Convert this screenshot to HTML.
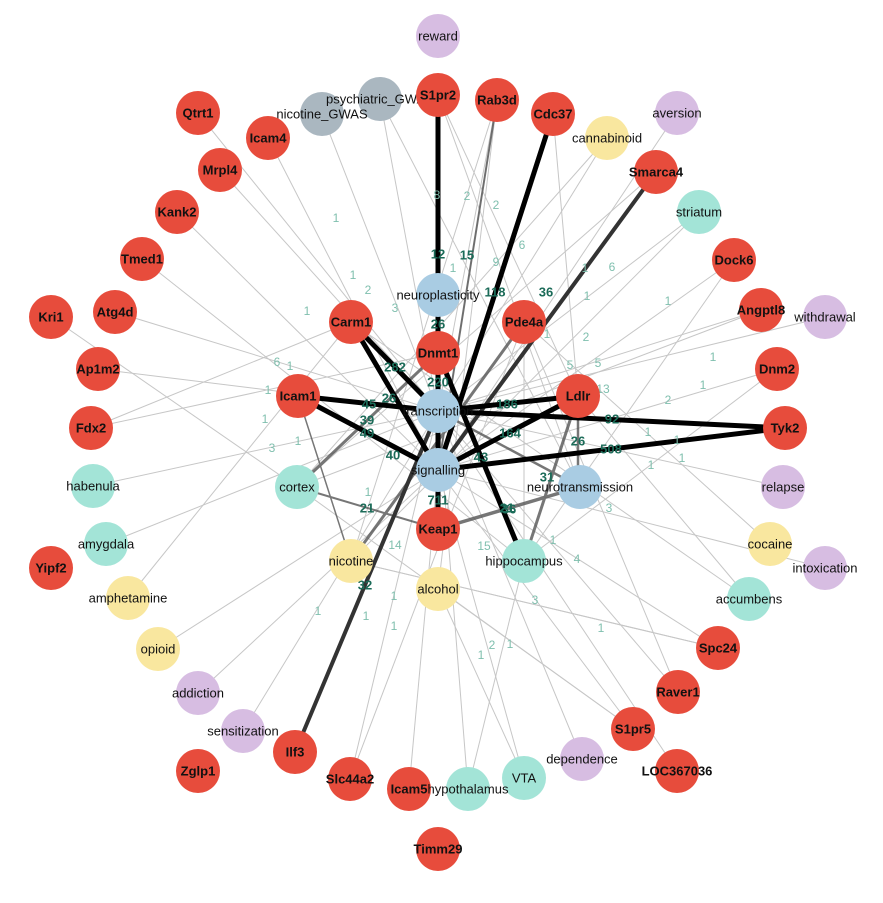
<!DOCTYPE html>
<html><head><meta charset="utf-8"><style>
html,body{margin:0;padding:0;background:#fff;width:883px;height:903px;overflow:hidden}
svg text{font-family:"Liberation Sans",sans-serif;font-size:13px;text-anchor:middle;dominant-baseline:central}
.r{font-weight:bold;fill:#111}
.l{fill:#111}
.e{fill:#7fbfae;font-size:12px}
.b{fill:#1b6b58;font-size:13px;font-weight:bold}
</style></head><body>
<svg width="883" height="903" viewBox="0 0 883 903" xmlns="http://www.w3.org/2000/svg">
<g stroke="#999" stroke-width="1" opacity="0.55">
<line x1="198" y1="113" x2="438" y2="411"/><line x1="268" y1="138" x2="438" y2="470"/>
<line x1="220" y1="170" x2="438" y2="411"/><line x1="177" y1="212" x2="438" y2="470"/>
<line x1="142" y1="259" x2="524" y2="561"/><line x1="115" y1="312" x2="438" y2="411"/>
<line x1="51" y1="317" x2="297" y2="487"/><line x1="98" y1="369" x2="438" y2="411"/>
<line x1="91" y1="428" x2="438" y2="353"/><line x1="91" y1="428" x2="351" y2="322"/>
<line x1="93" y1="486" x2="438" y2="411"/><line x1="106" y1="544" x2="438" y2="411"/>
<line x1="128" y1="598" x2="351" y2="322"/><line x1="158" y1="649" x2="438" y2="470"/>
<line x1="243" y1="731" x2="438" y2="411"/><line x1="322" y1="114" x2="438" y2="411"/>
<line x1="380" y1="99" x2="438" y2="411"/><line x1="380" y1="99" x2="580" y2="487"/>
<line x1="497" y1="100" x2="438" y2="411"/><line x1="497" y1="100" x2="438" y2="470"/>
<line x1="497" y1="100" x2="351" y2="561"/><line x1="497" y1="100" x2="438" y2="589"/>
<line x1="438" y1="95" x2="578" y2="396"/><line x1="438" y1="95" x2="580" y2="487"/>
<line x1="607" y1="138" x2="438" y2="411"/><line x1="607" y1="138" x2="297" y2="487"/>
<line x1="699" y1="212" x2="438" y2="411"/><line x1="699" y1="212" x2="351" y2="561"/>
<line x1="734" y1="260" x2="438" y2="470"/><line x1="734" y1="260" x2="524" y2="561"/>
<line x1="761" y1="310" x2="438" y2="411"/><line x1="761" y1="310" x2="297" y2="487"/>
<line x1="777" y1="369" x2="438" y2="470"/><line x1="777" y1="369" x2="524" y2="561"/>
<line x1="825" y1="317" x2="438" y2="411"/><line x1="783" y1="487" x2="438" y2="411"/>
<line x1="825" y1="568" x2="438" y2="470"/><line x1="770" y1="544" x2="524" y2="322"/>
<line x1="749" y1="599" x2="578" y2="396"/><line x1="749" y1="599" x2="351" y2="322"/>
<line x1="718" y1="648" x2="438" y2="470"/><line x1="718" y1="648" x2="351" y2="561"/>
<line x1="678" y1="692" x2="438" y2="411"/><line x1="678" y1="692" x2="524" y2="322"/>
<line x1="633" y1="729" x2="438" y2="470"/><line x1="633" y1="729" x2="297" y2="487"/>
<line x1="582" y1="759" x2="438" y2="411"/><line x1="524" y1="778" x2="438" y2="470"/>
<line x1="468" y1="789" x2="438" y2="411"/><line x1="468" y1="789" x2="524" y2="561"/>
<line x1="409" y1="789" x2="438" y2="470"/><line x1="350" y1="779" x2="524" y2="322"/>
<line x1="350" y1="779" x2="438" y2="411"/><line x1="198" y1="693" x2="438" y2="470"/>
<line x1="677" y1="771" x2="438" y2="411"/><line x1="677" y1="113" x2="438" y2="470"/>
<line x1="656" y1="172" x2="297" y2="487"/><line x1="553" y1="114" x2="578" y2="396"/>
<line x1="524" y1="322" x2="524" y2="561"/><line x1="438" y1="589" x2="633" y2="729"/>
<line x1="351" y1="561" x2="718" y2="648"/><line x1="438" y1="589" x2="524" y2="778"/>
</g>
<g stroke="#555" opacity="0.8">
<line x1="297" y1="487" x2="438" y2="529" stroke-width="2"/>
<line x1="438" y1="411" x2="580" y2="487" stroke-width="2.5"/>
<line x1="297" y1="487" x2="438" y2="353" stroke-width="3"/>
<line x1="351" y1="561" x2="524" y2="322" stroke-width="3"/>
<line x1="524" y1="561" x2="578" y2="396" stroke-width="3"/>
<line x1="438" y1="529" x2="580" y2="487" stroke-width="3.5"/>
<line x1="298" y1="396" x2="351" y2="561" stroke-width="1.5"/>
<line x1="497" y1="100" x2="438" y2="470" stroke-width="2"/>
<line x1="578" y1="396" x2="578" y2="487" stroke-width="2.5"/>
</g>
<g stroke="#333">
<line x1="295" y1="752" x2="438" y2="411" stroke-width="4"/>
<line x1="656" y1="172" x2="438" y2="470" stroke-width="4"/>
</g>
<g stroke="#000" stroke-width="5">
<line x1="438" y1="95" x2="438" y2="529"/>
<line x1="553" y1="114" x2="438" y2="470"/>
<line x1="351" y1="322" x2="438" y2="411"/><line x1="351" y1="322" x2="438" y2="470"/>
<line x1="298" y1="396" x2="438" y2="411"/><line x1="298" y1="396" x2="438" y2="470"/>
<line x1="578" y1="396" x2="438" y2="411"/><line x1="578" y1="396" x2="438" y2="470"/>
<line x1="785" y1="428" x2="438" y2="411"/><line x1="785" y1="428" x2="438" y2="470"/>
<line x1="438" y1="353" x2="524" y2="561"/>
</g>
<text class="e" x="336" y="218">1</text><text class="e" x="353" y="275">1</text><text class="e" x="368" y="290">2</text>
<text class="e" x="437" y="195">8</text><text class="e" x="467" y="196">2</text><text class="e" x="496" y="205">2</text>
<text class="e" x="522" y="245">6</text><text class="e" x="496" y="262">9</text><text class="e" x="453" y="268">1</text>
<text class="e" x="307" y="311">1</text><text class="e" x="395" y="308">3</text><text class="e" x="277" y="362">6</text>
<text class="e" x="290" y="366">1</text><text class="e" x="268" y="390">1</text><text class="e" x="265" y="419">1</text>
<text class="e" x="272" y="448">3</text><text class="e" x="298" y="441">1</text><text class="e" x="368" y="492">1</text>
<text class="e" x="395" y="545">14</text><text class="e" x="484" y="546">15</text><text class="e" x="553" y="540">1</text>
<text class="e" x="577" y="559">4</text><text class="e" x="609" y="508">3</text><text class="e" x="535" y="600">3</text>
<text class="e" x="601" y="628">1</text><text class="e" x="394" y="596">1</text><text class="e" x="366" y="616">1</text>
<text class="e" x="318" y="611">1</text><text class="e" x="394" y="626">1</text><text class="e" x="481" y="655">1</text>
<text class="e" x="492" y="645">2</text><text class="e" x="510" y="644">1</text><text class="e" x="612" y="267">6</text>
<text class="e" x="668" y="301">1</text><text class="e" x="713" y="357">1</text><text class="e" x="703" y="385">1</text>
<text class="e" x="668" y="400">2</text><text class="e" x="648" y="432">1</text><text class="e" x="677" y="440">1</text>
<text class="e" x="651" y="465">1</text><text class="e" x="682" y="458">1</text><text class="e" x="598" y="363">5</text>
<text class="e" x="570" y="365">5</text><text class="e" x="603" y="389">13</text><text class="e" x="586" y="337">2</text>
<text class="e" x="585" y="268">1</text><text class="e" x="547" y="334">1</text><text class="e" x="587" y="296">1</text>
<text class="b" x="438" y="254">12</text><text class="b" x="467" y="255">15</text><text class="b" x="495" y="292">118</text>
<text class="b" x="546" y="292">36</text><text class="b" x="438" y="324">26</text><text class="b" x="395" y="367">282</text>
<text class="b" x="438" y="382">220</text><text class="b" x="369" y="404">45</text><text class="b" x="389" y="398">26</text>
<text class="b" x="367" y="420">39</text><text class="b" x="367" y="433">49</text><text class="b" x="507" y="404">186</text>
<text class="b" x="510" y="433">164</text><text class="b" x="612" y="419">92</text><text class="b" x="611" y="449">508</text>
<text class="b" x="393" y="455">40</text><text class="b" x="481" y="457">43</text><text class="b" x="438" y="500">711</text>
<text class="b" x="507" y="508">21</text><text class="b" x="507" y="508">21</text><text class="b" x="507" y="508">21</text>
<text class="b" x="509" y="509">36</text><text class="b" x="367" y="508">21</text><text class="b" x="365" y="585">32</text>
<text class="b" x="578" y="441">26</text><text class="b" x="547" y="477">31</text>
<g>
<circle cx="438" cy="36" r="22" fill="#d7bde2"/><text class="l" x="438" y="36">reward</text>
<circle cx="677" cy="113" r="22" fill="#d7bde2"/><text class="l" x="677" y="113">aversion</text>
<circle cx="825" cy="317" r="22" fill="#d7bde2"/><text class="l" x="825" y="317">withdrawal</text>
<circle cx="783" cy="487" r="22" fill="#d7bde2"/><text class="l" x="783" y="487">relapse</text>
<circle cx="825" cy="568" r="22" fill="#d7bde2"/><text class="l" x="825" y="568">intoxication</text>
<circle cx="198" cy="693" r="22" fill="#d7bde2"/><text class="l" x="198" y="693">addiction</text>
<circle cx="243" cy="731" r="22" fill="#d7bde2"/><text class="l" x="243" y="731">sensitization</text>
<circle cx="582" cy="759" r="22" fill="#d7bde2"/><text class="l" x="582" y="759">dependence</text>
<circle cx="380" cy="99" r="22" fill="#aab7c0"/><circle cx="322" cy="114" r="22" fill="#aab7c0"/>
<text class="l" x="380" y="99">psychiatric_GWAS</text><text class="l" x="322" y="114">nicotine_GWAS</text>
<circle cx="607" cy="138" r="22" fill="#f9e79f"/><text class="l" x="607" y="138">cannabinoid</text>
<circle cx="770" cy="544" r="22" fill="#f9e79f"/><text class="l" x="770" y="544">cocaine</text>
<circle cx="128" cy="598" r="22" fill="#f9e79f"/><text class="l" x="128" y="598">amphetamine</text>
<circle cx="158" cy="649" r="22" fill="#f9e79f"/><text class="l" x="158" y="649">opioid</text>
<circle cx="351" cy="561" r="22" fill="#f9e79f"/><text class="l" x="351" y="561">nicotine</text>
<circle cx="438" cy="589" r="22" fill="#f9e79f"/><text class="l" x="438" y="589">alcohol</text>
<circle cx="699" cy="212" r="22" fill="#a3e4d7"/><text class="l" x="699" y="212">striatum</text>
<circle cx="93" cy="486" r="22" fill="#a3e4d7"/><text class="l" x="93" y="486">habenula</text>
<circle cx="106" cy="544" r="22" fill="#a3e4d7"/><text class="l" x="106" y="544">amygdala</text>
<circle cx="749" cy="599" r="22" fill="#a3e4d7"/><text class="l" x="749" y="599">accumbens</text>
<circle cx="297" cy="487" r="22" fill="#a3e4d7"/><text class="l" x="297" y="487">cortex</text>
<circle cx="524" cy="561" r="22" fill="#a3e4d7"/><text class="l" x="524" y="561">hippocampus</text>
<circle cx="524" cy="778" r="22" fill="#a3e4d7"/><circle cx="468" cy="789" r="22" fill="#a3e4d7"/>
<text class="l" x="524" y="778">VTA</text>
<circle cx="438" cy="295" r="22" fill="#a9cce3"/><text class="l" x="438" y="295">neuroplasticity</text>
<circle cx="438" cy="411" r="22" fill="#a9cce3"/><text class="l" x="438" y="411">transcription</text>
<circle cx="438" cy="470" r="22" fill="#a9cce3"/><text class="l" x="438" y="470">signalling</text>
<circle cx="580" cy="487" r="22" fill="#a9cce3"/><text class="l" x="580" y="487">neurotransmission</text>
<g fill="#e74c3c">
<circle cx="438" cy="95" r="22"/><circle cx="497" cy="100" r="22"/><circle cx="553" cy="114" r="22"/>
<circle cx="198" cy="113" r="22"/><circle cx="268" cy="138" r="22"/><circle cx="220" cy="170" r="22"/>
<circle cx="656" cy="172" r="22"/><circle cx="177" cy="212" r="22"/><circle cx="142" cy="259" r="22"/>
<circle cx="734" cy="260" r="22"/><circle cx="51" cy="317" r="22"/><circle cx="115" cy="312" r="22"/>
<circle cx="761" cy="310" r="22"/><circle cx="351" cy="322" r="22"/><circle cx="524" cy="322" r="22"/>
<circle cx="438" cy="353" r="22"/><circle cx="98" cy="369" r="22"/><circle cx="777" cy="369" r="22"/>
<circle cx="298" cy="396" r="22"/><circle cx="578" cy="396" r="22"/><circle cx="785" cy="428" r="22"/>
<circle cx="91" cy="428" r="22"/><circle cx="438" cy="529" r="22"/><circle cx="51" cy="568" r="22"/>
<circle cx="718" cy="648" r="22"/><circle cx="678" cy="692" r="22"/><circle cx="633" cy="729" r="22"/>
<circle cx="677" cy="771" r="22"/><circle cx="295" cy="752" r="22"/><circle cx="198" cy="771" r="22"/>
<circle cx="350" cy="779" r="22"/><circle cx="409" cy="789" r="22"/><circle cx="438" cy="849" r="22"/>
</g>
<text class="l" x="468" y="789">hypothalamus</text>
<text class="r" x="438" y="95">S1pr2</text><text class="r" x="497" y="100">Rab3d</text><text class="r" x="553" y="114">Cdc37</text>
<text class="r" x="198" y="113">Qtrt1</text><text class="r" x="268" y="138">Icam4</text><text class="r" x="220" y="170">Mrpl4</text>
<text class="r" x="656" y="172">Smarca4</text><text class="r" x="177" y="212">Kank2</text><text class="r" x="142" y="259">Tmed1</text>
<text class="r" x="734" y="260">Dock6</text><text class="r" x="51" y="317">Kri1</text><text class="r" x="115" y="312">Atg4d</text>
<text class="r" x="761" y="310">Angptl8</text><text class="r" x="351" y="322">Carm1</text><text class="r" x="524" y="322">Pde4a</text>
<text class="r" x="438" y="353">Dnmt1</text><text class="r" x="98" y="369">Ap1m2</text><text class="r" x="777" y="369">Dnm2</text>
<text class="r" x="298" y="396">Icam1</text><text class="r" x="578" y="396">Ldlr</text><text class="r" x="785" y="428">Tyk2</text>
<text class="r" x="91" y="428">Fdx2</text><text class="r" x="438" y="529">Keap1</text><text class="r" x="51" y="568">Yipf2</text>
<text class="r" x="718" y="648">Spc24</text><text class="r" x="678" y="692">Raver1</text><text class="r" x="633" y="729">S1pr5</text>
<text class="r" x="677" y="771">LOC367036</text><text class="r" x="295" y="752">Ilf3</text><text class="r" x="198" y="771">Zglp1</text>
<text class="r" x="350" y="779">Slc44a2</text><text class="r" x="409" y="789">Icam5</text><text class="r" x="438" y="849">Timm29</text>
</g>
</svg>
</body></html>
